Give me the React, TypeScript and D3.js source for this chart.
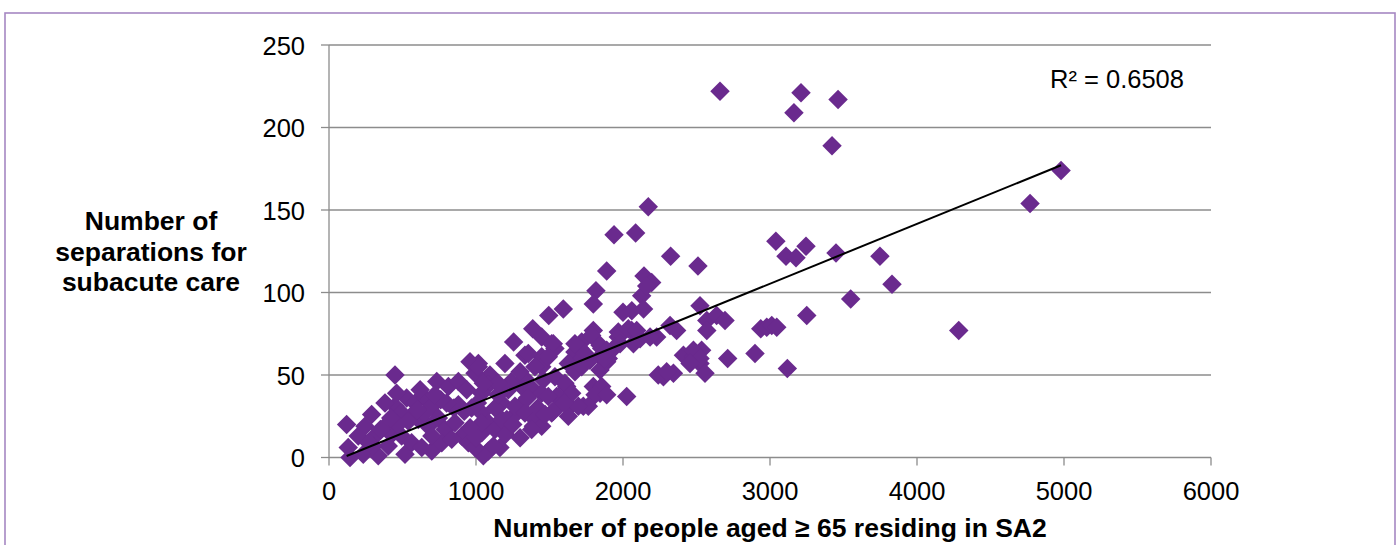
import React from 'react';
import * as d3 from 'd3';

// ---- data ----
const xTicks = [0, 1000, 2000, 3000, 4000, 5000, 6000];
const yTicks = [0, 50, 100, 150, 200, 250];

const aged65 = [
  2660, 3211, 3463, 3163, 3422, 4980, 4769, 4284, 2172, 1939, 2086, 3040, 3245, 3449, 3748, 2324, 3109, 3177,
  1889, 2510, 2143, 2195, 3830, 1816, 1798, 2127, 2161, 2140, 2000, 2060, 2524, 1594, 1495, 3549, 3250, 2937,
  2978, 3012, 3046, 2898, 2712, 3118, 2570, 2637, 2694, 2570, 2535, 2524, 2558,
  1386, 1256, 1798, 1968, 2059, 2229, 2320, 2365, 1719, 1707, 1526, 1537, 1333, 1197, 1447, 1447, 1844, 1673,
  1707, 1775, 1844, 1889, 2275, 2343, 2411, 2479, 2025, 1798, 1844, 1617, 1640, 1730, 1390, 1458, 1299, 1390,
  1549, 1526, 1209, 1277, 1163,
  1356, 1401, 1447, 1515, 1492, 1016, 1095, 1084, 1039, 1673, 1741, 1787, 1855, 1900, 1968, 1946, 1628, 1673,
  1719, 1537, 1605, 1651, 1560, 1855, 1810, 1764, 1696, 1628, 1220, 1311, 1379, 1447, 1492, 1175, 1265, 1333,
  1401, 1447, 1379, 1515, 1560, 1039, 1084, 1039, 1084, 1050, 1129, 1175,
  2116, 2071, 1980, 2184, 2479, 2524, 2456, 2240, 2297, 1889, 1878, 1844, 1889, 2036, 2093,
  449, 120, 131, 143, 233, 335, 517, 290, 245, 199, 313, 381, 426, 403, 449, 528, 585, 653, 699, 733, 812, 880,
  937, 993, 608, 676, 744, 789, 857, 903, 948, 494, 562, 631, 699, 767, 835, 993, 1039, 959, 1016, 562, 494,
  381, 1118,
  970, 1010, 920, 880, 850, 800, 760, 720, 650, 600, 540, 470, 420, 350, 300, 270, 460, 620, 700, 960, 1000,
  1130, 1150, 1200, 1250, 1300, 1350, 1420, 1470, 1600, 1240, 1330, 1300, 1150, 1050,
];

const separations = [
  222, 221, 217, 209, 189, 174, 154, 77, 152, 135, 136, 131, 128, 124, 122, 122, 122, 121,
  113, 116, 110, 106, 105, 101, 93, 98, 104, 90, 88, 89, 92, 90, 86, 96, 86, 78,
  79, 80, 79, 63, 60, 54, 83, 86, 83, 77, 65, 57, 51,
  78, 70, 77, 76, 77, 73, 80, 77, 70, 66, 69, 66, 62, 57, 61, 55, 61, 64,
  59, 59, 53, 58, 49, 51, 62, 61, 37, 43, 39, 43, 31, 31, 41, 47, 31, 19,
  37, 28, 23, 27, 6,
  63, 55, 73, 69, 61, 57, 50, 44, 39, 69, 63, 74, 66, 60, 73, 67, 57, 52,
  55, 49, 45, 39, 37, 43, 38, 31, 31, 25, 41, 43, 41, 39, 37, 33, 31, 27,
  23, 19, 17, 27, 31, 27, 21, 15, 4, 1, 17, 23,
  72, 69, 69, 73, 65, 60, 57, 50, 52, 38, 60, 68, 65, 78, 77,
  50, 20, 6, 0, 2, 1, 2, 26, 19, 13, 13, 19, 14, 7, 31, 36, 33, 36, 31, 46, 43, 46,
  41, 51, 23, 19, 24, 17, 21, 13, 9, 13, 9, 6, 4, 9, 11, 6, 21, 58, 55, 25, 27,
  33, 7,
  30, 33, 28, 32, 30, 33, 35, 38, 27, 29, 22, 20, 24, 17, 7, 9, 39, 41, 13, 18, 12,
  30, 38, 14, 20, 12, 36, 30, 26, 33, 46, 48, 52, 45, 45,
];

// linear trendline
const trendSlope = 0.03626;
const trendIntercept = -3.45;
const rSquaredLabel = 'R\u00B2 = 0.6508';

const xTitle = 'Number of people aged \u2265 65 residing in SA2';
const yTitleLines = ['Number of', 'separations for', 'subacute care'];

const FONT = '"Liberation Sans", Arial, Helvetica, sans-serif';

export default function App() {
  const W = 1399;
  const H = 545;
  const x = d3.scaleLinear().domain([0, 6000]).range([329, 1211]);
  const y = d3.scaleLinear().domain([0, 250]).range([457.5, 45]);

  const points = aged65.map((v, i) => ({ x: v, y: separations[i] }));
  const symbolPath = d3.symbol().type(d3.symbolSquare).size(190)() as string;

  const [xmin, xmax] = d3.extent(aged65) as [number, number];
  const trendData = [xmin, xmax].map((v) => ({ x: v, y: trendIntercept + trendSlope * v }));
  const trendPath = d3
    .line<{ x: number; y: number }>()
    .x((d) => x(d.x))
    .y((d) => y(d.y))(trendData) as string;

  const gridColor = '#8c8c8c';
  const [x0, x1] = x.range();
  const [y0, y1] = y.range();

  return (
    <svg
      width={W}
      height={H}
      style={{ position: 'absolute', left: 0, top: 0, background: '#fff' }}
      fontFamily={FONT}
    >
      <rect x={5} y={13} width={1390} height={600} fill="#fff" stroke="#a687c2" strokeWidth={1.6} />

      {/* gridlines */}
      {yTicks.filter((t) => t !== 0).map((t) => (
        <line key={'g' + t} x1={x0} x2={x1} y1={y(t)} y2={y(t)} stroke={gridColor} strokeWidth={1.3} />
      ))}

      {/* axes */}
      <line x1={x0} x2={x0} y1={y1} y2={y0} stroke={gridColor} strokeWidth={1.3} />
      <line x1={x0} x2={x1} y1={y0} y2={y0} stroke={gridColor} strokeWidth={1.3} />
      {yTicks.map((t) => (
        <g key={'yt' + t}>
          <line x1={x0 - 8} x2={x0} y1={y(t)} y2={y(t)} stroke={gridColor} strokeWidth={1.3} />
          <text x={305} y={y(t) + 9.5} textAnchor="end" fontSize={25.5} fill="#000">
            {t}
          </text>
        </g>
      ))}
      {xTicks.map((t) => (
        <g key={'xt' + t}>
          <line x1={x(t)} x2={x(t)} y1={y0} y2={y0 + 8} stroke={gridColor} strokeWidth={1.3} />
          <text x={x(t)} y={500} textAnchor="middle" fontSize={25.5} fill="#000">
            {t}
          </text>
        </g>
      ))}

      {/* points */}
      {points.map((p, i) => (
        <path
          key={'p' + i}
          d={symbolPath}
          transform={`translate(${x(p.x)},${y(p.y)}) rotate(45)`}
          fill="#6a2a8e"
        />
      ))}

      {/* trendline */}
      <path d={trendPath} fill="none" stroke="#000" strokeWidth={2} />

      <text x={1050} y={88} fontSize={25.5} fill="#000">
        {rSquaredLabel}
      </text>

      {/* titles */}
      <text x={(x0 + x1) / 2} y={537} textAnchor="middle" fontSize={26.5} fontWeight="bold" fill="#000">
        {xTitle}
      </text>
      {yTitleLines.map((l, i) => (
        <text
          key={'yl' + i}
          x={151}
          y={230 + i * 30.5}
          textAnchor="middle"
          fontSize={26.5}
          fontWeight="bold"
          fill="#000"
        >
          {l}
        </text>
      ))}
    </svg>
  );
}
